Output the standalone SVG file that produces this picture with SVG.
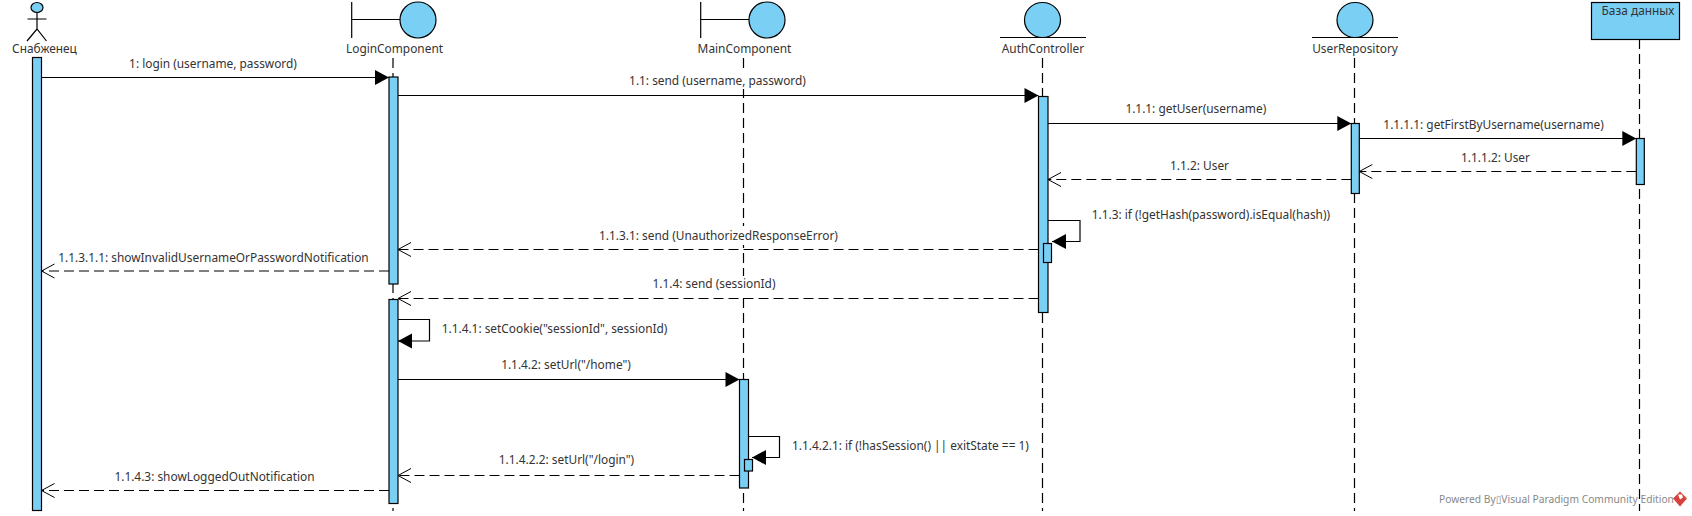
<svg xmlns="http://www.w3.org/2000/svg" width="1692" height="516" viewBox="0 0 1692 516">
<style>
text{font-family:"Noto Sans","Open Sans","DejaVu Sans",sans-serif;font-size:11.88px;fill:#333}
.m{text-anchor:middle}
.s{fill:#7ACFF5;stroke:#000;stroke-width:1.2}
.l{fill:none;stroke:#000;stroke-width:1.2}
.bg{fill:#fff}
.life{fill:none;stroke:#000;stroke-width:1.2;stroke-dasharray:10 5}
.solid{fill:none;stroke:#000;stroke-width:1.2;marker-end:url(#fill)}
.dash{fill:none;stroke:#000;stroke-width:1.2;stroke-dasharray:10 5;marker-end:url(#open)}
</style>
<defs>
<marker id="fill" markerUnits="userSpaceOnUse" markerWidth="16" markerHeight="18" refX="14.500" refY="8" orient="auto"><path d="M0.500 0.500L14.500 8L0.500 15.500Z" fill="#000"/></marker>
<marker id="open" markerUnits="userSpaceOnUse" markerWidth="15" markerHeight="16" refX="13.500" refY="7.500" orient="auto"><path d="M0.500 0.500L13.500 7.500L0.500 14.500" fill="none" stroke="#000" stroke-width="1"/></marker>
</defs>
<rect width="1692" height="516" fill="#fff"/>
<g id="lifelines">
<path class="life" d="M393 58V511"/>
<path class="life" d="M743.500 58V511"/>
<path class="life" d="M1042.500 58V511"/>
<path class="life" d="M1354.500 58V511"/>
<path class="life" d="M1639.500 39V511"/>
</g>
<g id="node-snabzhenets">
<ellipse class="s" cx="37" cy="7.500" rx="6" ry="5"/>
<path class="l" d="M37 12.500V29M27.500 19H46.500M27 41L37 29L46.500 41"/>
<text class="m" x="44.500" y="53">Снабженец</text>
<rect class="s" x="32.500" y="57.500" width="9" height="453"/>
</g>
<g id="node-login">
<path class="l" d="M351.700 2V38M351.700 19.500H400"/>
<circle class="s" cx="418" cy="20" r="18"/>
<text class="m" x="394.500" y="53">LoginComponent</text>
<rect class="s" x="389" y="77" width="9" height="207"/>
<rect class="s" x="389" y="299.500" width="9" height="204"/>
</g>
<g id="node-main">
<path class="l" d="M700.700 2V38M700.700 19.500H749"/>
<circle class="s" cx="767" cy="20" r="18"/>
<text class="m" x="744.500" y="53">MainComponent</text>
<rect class="s" x="739.500" y="379.500" width="9" height="108.500"/>
<rect class="s" x="744.500" y="459.500" width="8" height="11.500"/>
</g>
<g id="node-auth">
<ellipse class="s" cx="1042.500" cy="20" rx="18" ry="17.500"/>
<path class="l" d="M1000 37.500H1086"/>
<text class="m" x="1043" y="53">AuthController</text>
<rect class="s" x="1038.500" y="96.500" width="9.500" height="216"/>
<rect class="s" x="1043.500" y="243.500" width="8" height="19"/>
</g>
<g id="node-userrepo">
<ellipse class="s" cx="1355" cy="20" rx="18" ry="17.500"/>
<path class="l" d="M1312 37.500H1398"/>
<text class="m" x="1355" y="53">UserRepository</text>
<rect class="s" x="1351.300" y="123.500" width="8" height="70"/>
</g>
<g id="node-db">
<rect class="s" x="1591.500" y="2.500" width="88" height="37"/>
<text class="m" x="1638" y="15">База данных</text>
<rect class="s" x="1636.300" y="138.500" width="8" height="46"/>
</g>
<g id="connectors">
<path class="solid" d="M41.500 77.500H389"/>
<path class="solid" d="M398 95.500H1038.500"/>
<path class="solid" d="M1048 123.500H1351.300"/>
<path class="solid" d="M1359.300 138.500H1636.300"/>
<path class="dash" d="M1636.300 171.500H1359.300"/>
<path class="dash" d="M1351.300 179.500H1048"/>
<path class="solid" d="M1048 220.500H1080V241.500H1052"/>
<path class="dash" d="M1038.500 249.500H398"/>
<path class="dash" d="M389 271H41.500"/>
<path class="dash" d="M1038.500 298.500H398"/>
<path class="solid" d="M398 319.500H429.500V341H398"/>
<path class="solid" d="M398 379.500H739.500"/>
<path class="solid" d="M748.500 436.500H779.500V457.500H752"/>
<path class="dash" d="M739.500 475.500H398"/>
<path class="dash" d="M389 490.500H41.500"/>
</g>
<g id="labels">
<text class="m" x="213" y="68">1: login (username, password)</text>
<rect class="bg" x="736" y="72" width="15" height="17"/>
<text class="m" x="717.500" y="85">1.1: send (username, password)</text>
<text class="m" x="1195.800" y="113">1.1.1: getUser(username)</text>
<text class="m" x="1493.600" y="129">1.1.1.1: getFirstByUsername(username)</text>
<text class="m" x="1495.500" y="162">1.1.1.2: User</text>
<text class="m" x="1199.500" y="170">1.1.2: User</text>
<text x="1091.700" y="219">1.1.3: if (!getHash(password).isEqual(hash))</text>
<rect class="bg" x="736" y="226" width="15" height="19"/>
<text class="m" x="718.500" y="239.500">1.1.3.1: send (UnauthorizedResponseError)</text>
<text class="m" x="213.500" y="261.500">1.1.3.1.1: showInvalidUsernameOrPasswordNotification</text>
<rect class="bg" x="736" y="276" width="15" height="20"/>
<text class="m" x="714" y="287.500">1.1.4: send (sessionId)</text>
<text x="441.700" y="332.500">1.1.4.1: setCookie("sessionId", sessionId)</text>
<text class="m" x="566" y="369">1.1.4.2: setUrl("/home")</text>
<text x="792" y="450">1.1.4.2.1: if (!hasSession() || exitState == 1)</text>
<text class="m" x="566.500" y="464">1.1.4.2.2: setUrl("/login")</text>
<text class="m" x="214.500" y="480.500">1.1.4.3: showLoggedOutNotification</text>
</g>
<g id="footer">
<text x="1439" y="503" style="font-size:10.250px;fill:#888">Powered By▯Visual Paradigm Community Edition</text>
<path d="M1680 491.500L1687 498.500L1680 506.500L1673 498.500Z" fill="#d9423c"/>
<path d="M1678 494.500H1682L1683 497.500L1680 499.500Z" fill="#fff"/>
</g>
</svg>
